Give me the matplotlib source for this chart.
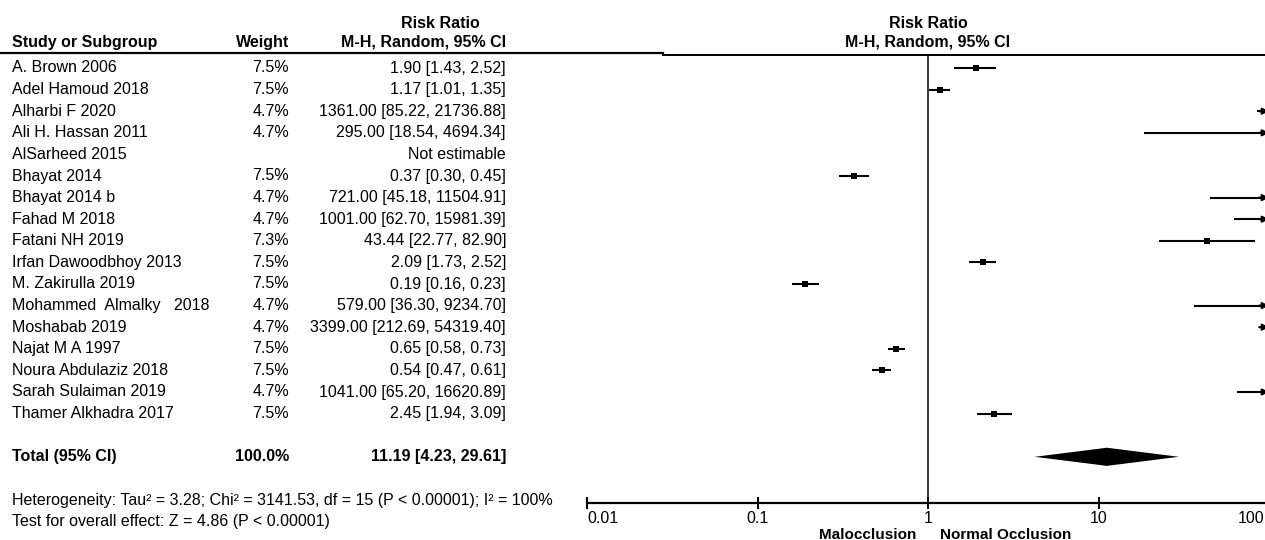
import matplotlib
matplotlib.use("Agg")
import matplotlib.pyplot as plt
from matplotlib.transforms import blended_transform_factory, ScaledTranslation
from matplotlib.patches import Polygon
import numpy as np

plt.rcParams['font.family'] = ['Liberation Sans', 'DejaVu Sans']

studies = ["A. Brown 2006", "Adel Hamoud 2018", "Alharbi F 2020", "Ali H. Hassan 2011",
           "AlSarheed 2015", "Bhayat 2014", "Bhayat 2014 b", "Fahad M 2018", "Fatani NH 2019",
           "Irfan Dawoodbhoy 2013", "M. Zakirulla 2019", "Mohammed  Almalky   2018",
           "Moshabab 2019", "Najat M A 1997", "Noura Abdulaziz 2018", "Sarah Sulaiman 2019",
           "Thamer Alkhadra 2017"]
weights = [7.5, 7.5, 4.7, 4.7, None, 7.5, 4.7, 4.7, 7.3, 7.5, 7.5, 4.7, 4.7, 7.5, 7.5, 4.7, 7.5]
rr = [1.90, 1.17, 1361.00, 295.00, None, 0.37, 721.00, 1001.00, 43.44, 2.09, 0.19, 579.00,
      3399.00, 0.65, 0.54, 1041.00, 2.45]
lo = [1.43, 1.01, 85.22, 18.54, None, 0.30, 45.18, 62.70, 22.77, 1.73, 0.16, 36.30,
      212.69, 0.58, 0.47, 65.20, 1.94]
hi = [2.52, 1.35, 21736.88, 4694.34, None, 0.45, 11504.91, 15981.39, 82.90, 2.52, 0.23,
      9234.70, 54319.40, 0.73, 0.61, 16620.89, 3.09]
total_weight = 100.0
total_rr, total_lo, total_hi = 11.19, 4.23, 29.61
xticks = [0.01, 0.1, 1, 10, 100]
xtick_labels = ["0.01", "0.1", "1", "10", "100"]
heterogeneity = "Heterogeneity: Tau\u00b2 = 3.28; Chi\u00b2 = 3141.53, df = 15 (P < 0.00001); I\u00b2 = 100%"
overall = "Test for overall effect: Z = 4.86 (P < 0.00001)"
favours_left, favours_right = "Malocclusion", "Normal Occlusion"

W, H = 1265, 540
fig = plt.figure(figsize=(W / 100, H / 100), dpi=100)

# overlay in pixel coords
ov = fig.add_axes([0, 0, 1, 1])
ov.set_xlim(0, W)
ov.set_ylim(H, 0)
ov.axis('off')

# forest axes
row0, drow = 68, 21.6
ax_top, ax_bot = 55, 503
ax_left, ax_right = 587, 1269
ax = fig.add_axes([ax_left / W, (H - ax_bot) / H, (ax_right - ax_left) / W, (ax_bot - ax_top) / H])
ax.set_xscale('log')
ax.set_xlim(0.01, 100)
ax.set_ylim((ax_bot - row0) / drow, (ax_top - row0) / drow)
ax.patch.set_alpha(0)
for s in ['top', 'right', 'left']:
    ax.spines[s].set_visible(False)
ax.spines['bottom'].set_linewidth(1.6)
ax.set_yticks([])
ax.set_xticks(xticks)
ax.set_xticklabels(xtick_labels)
ax.minorticks_off()
ax.tick_params(axis='x', direction='inout', length=9, width=1.4, labelsize=11.5, pad=1)
tl = ax.get_xticklabels()
tl[0].set_horizontalalignment('left')
tl[-1].set_horizontalalignment('right')
tl[-1].set_transform(tl[-1].get_transform() + ScaledTranslation(-5 / 100, 0, fig.dpi_scale_trans))
ax.axvline(1, color='black', lw=1.1)

tr = blended_transform_factory(ov.transData, ax.transData)
fs = 11.5
n = len(studies)
for i in range(n):
    ov.text(12, i, studies[i], transform=tr, fontsize=fs, va='center', ha='left')
    if weights[i] is not None:
        ov.text(289, i, f"{weights[i]:.1f}%", transform=tr, fontsize=fs, va='center', ha='right')
        ov.text(506, i, f"{rr[i]:.2f} [{lo[i]:.2f}, {hi[i]:.2f}]", transform=tr, fontsize=fs,
                va='center', ha='right')
    else:
        ov.text(506, i, "Not estimable", transform=tr, fontsize=fs, va='center', ha='right')
        continue
    x0 = max(lo[i], 0.01)
    x1 = min(hi[i], 100)
    if x0 < x1:
        ax.plot([x0, x1], [i, i], color='black', lw=1.5, solid_capstyle='butt')
    if rr[i] < 100:
        ms = 1.45 * np.sqrt(weights[i])
        ax.plot([rr[i]], [i], marker='s', color='black', ms=ms, mew=0)
    if hi[i] > 100:
        ax.annotate("", xy=(100, i), xycoords='data', xytext=(-7, 0), textcoords='offset points',
                    arrowprops=dict(arrowstyle='-|>', lw=1.5, color='black', mutation_scale=9,
                                    shrinkA=0, shrinkB=0), annotation_clip=False)

ti = n + 1
ov.text(12, ti, "Total (95% CI)", transform=tr, fontsize=fs, va='center', ha='left', fontweight='bold')
ov.text(289, ti, f"{total_weight:.1f}%", transform=tr, fontsize=fs, va='center', ha='right', fontweight='bold')
ov.text(506, ti, f"{total_rr:.2f} [{total_lo:.2f}, {total_hi:.2f}]", transform=tr, fontsize=fs,
        va='center', ha='right', fontweight='bold')
dh = 0.42
ax.add_patch(Polygon([[total_lo, ti], [total_rr, ti - dh], [total_hi, ti], [total_rr, ti + dh]],
                     closed=True, color='black', lw=0))

ov.text(12, n + 3, heterogeneity, transform=tr, fontsize=fs, va='center', ha='left')
ov.text(12, n + 4, overall, transform=tr, fontsize=fs, va='center', ha='left')

# headers
ov.text(12, 42, "Study or Subgroup", fontsize=fs, fontweight='bold', va='center', ha='left')
ov.text(289, 42, "Weight", fontsize=fs, fontweight='bold', va='center', ha='right')
ov.text(440, 24, "Risk Ratio", fontsize=fs, fontweight='bold', va='center', ha='center')
ov.text(506, 42, "M-H, Random, 95% CI", fontsize=fs, fontweight='bold', va='center', ha='right')
ov.text(928, 24, "Risk Ratio", fontsize=fs, fontweight='bold', va='center', ha='center')
ov.text(928, 42, "M-H, Random, 95% CI", fontsize=fs, fontweight='bold', va='center', ha='center')
ov.plot([0, 663], [53, 53], color='black', lw=1.6)
ov.plot([663, W], [55, 55], color='black', lw=1.4)

ov.text(916, 535, favours_left, fontsize=11, fontweight='bold', va='center', ha='right')
ov.text(940, 535, favours_right, fontsize=11, fontweight='bold', va='center', ha='left')

fig.savefig("out.png", dpi=100)
